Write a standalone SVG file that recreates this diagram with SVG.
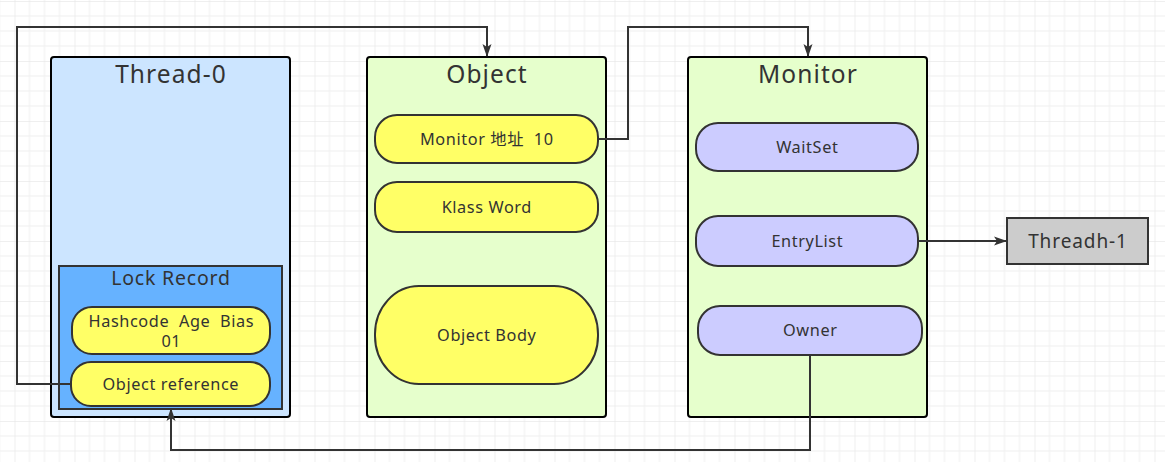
<svg xmlns="http://www.w3.org/2000/svg" width="1165" height="462" viewBox="0 0 1165 462">
<style>
text{font-family:"Noto Sans","Noto Sans CJK SC",sans-serif;fill:#333;text-anchor:middle}
.outer{stroke:#000;stroke-width:2}
.pill{stroke:#333;stroke-width:2}
.y{fill:#ffff66}
.p{fill:#ccccff}
.t{font-size:24.5px;letter-spacing:1.1px}
.s{font-size:16.3px;letter-spacing:0.6px}
.conn path{fill:none;stroke:#333;stroke-width:2}
</style>
<defs>
<pattern id="grid" patternUnits="userSpaceOnUse" x="14.5" y="1" width="60" height="60">
<path d="M15 0V60M30 0V60M45 0V60M0 15H60M0 30H60M0 45H60" stroke="#efefef" stroke-width="1" fill="none"/>
<path d="M0 0V60M0 0H60" stroke="#e0e0e0" stroke-width="1" fill="none"/>
</pattern>
<marker id="arr" markerUnits="userSpaceOnUse" markerWidth="14" markerHeight="10" refX="12" refY="5" orient="auto">
<path d="M0,0.5 L13,5 L0,9.5 L3,5 z" fill="#333"/>
</marker>
</defs>
<rect width="1165" height="462" fill="#fff"/>
<rect width="1165" height="462" fill="url(#grid)"/>

<g id="thread0">
<rect class="outer" x="51" y="57" width="239" height="360" rx="3" fill="#cce5ff"/>
<text class="t" x="171" y="83">Thread-0</text>
</g>
<g id="lockrecord">
<rect x="59" y="266" width="223" height="143" fill="#66b2ff" stroke="#333" stroke-width="2"/>
<text x="171" y="285" style="font-size:19.5px;letter-spacing:0.8px">Lock Record</text>
</g>
<g id="hashcode">
<rect class="pill y" x="72" y="307" width="198" height="47" rx="20"/>
<text class="s" x="171.3" y="327" xml:space="preserve">Hashcode  Age  Bias</text>
<text class="s" x="171.3" y="347">01</text>
</g>
<g id="objref">
<rect class="pill y" x="71" y="362" width="199" height="44" rx="20"/>
<text class="s" x="170.8" y="390">Object reference</text>
</g>

<g id="object">
<rect class="outer" x="367" y="57" width="239" height="360" rx="3" fill="#e6ffcc"/>
<text class="t" x="487" y="83">Object</text>
</g>
<g id="monaddr">
<rect class="pill y" x="375" y="115" width="223" height="48" rx="22"/>
<text class="s" x="486.8" y="145" xml:space="preserve">Monitor 地址  10</text>
</g>
<g id="klass">
<rect class="pill y" x="375" y="182" width="223" height="50" rx="22"/>
<text class="s" x="486.8" y="213">Klass Word</text>
</g>
<g id="body">
<rect class="pill y" x="375" y="286" width="223" height="98" rx="44" ry="48"/>
<text class="s" x="486.8" y="341">Object Body</text>
</g>

<g id="monitor">
<rect class="outer" x="688" y="57" width="239" height="360" rx="3" fill="#e6ffcc"/>
<text class="t" x="808" y="83">Monitor</text>
</g>
<g id="waitset">
<rect class="pill p" x="696" y="123" width="222" height="48" rx="22"/>
<text class="s" x="807.3" y="153">WaitSet</text>
</g>
<g id="entrylist">
<rect class="pill p" x="696" y="216" width="222" height="50" rx="22"/>
<text class="s" x="807.3" y="247">EntryList</text>
</g>
<g id="owner">
<rect class="pill p" x="698" y="306" width="224" height="49" rx="22"/>
<text class="s" x="810.3" y="336">Owner</text>
</g>

<g id="threadh1">
<rect x="1007" y="218" width="141" height="46" fill="#cccccc" stroke="#333" stroke-width="2"/>
<text x="1078" y="248" style="font-size:19px;letter-spacing:0.9px">Threadh-1</text>
</g>

<g class="conn">
<path d="M71 384H17V27H487V56" marker-end="url(#arr)"/>
<path d="M598 139H628V27H808V56" marker-end="url(#arr)"/>
<path d="M918 241H1006" marker-end="url(#arr)"/>
<path d="M810 355V450H171V409" marker-end="url(#arr)"/>
</g>
</svg>
